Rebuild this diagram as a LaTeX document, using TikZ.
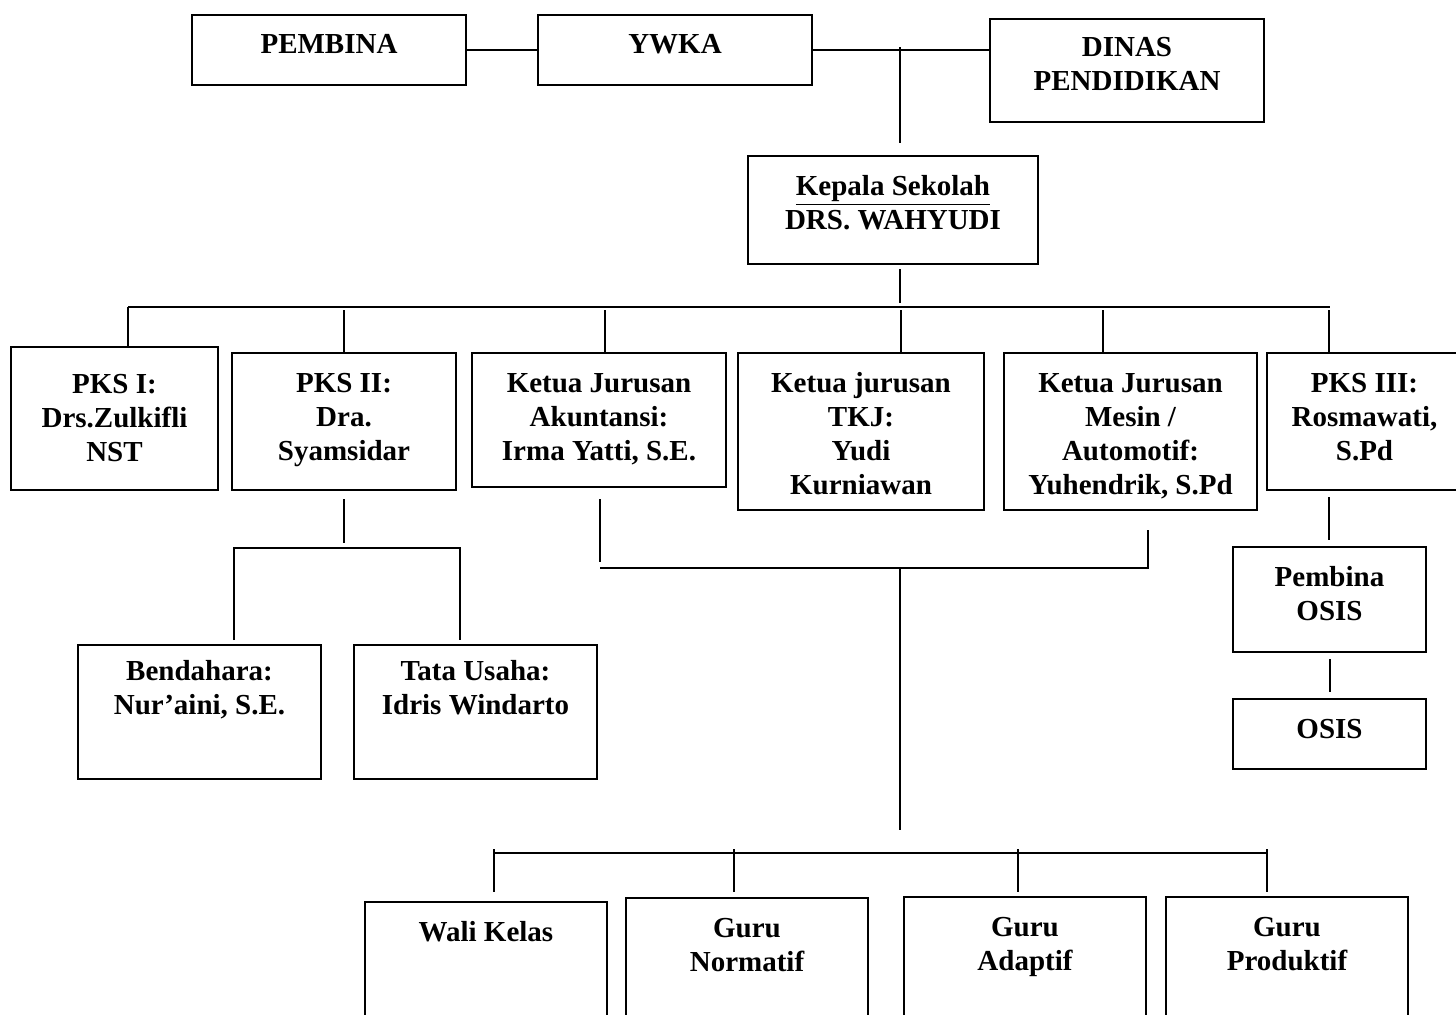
\documentclass[tikz,border=0pt]{standalone}
\usepackage{fontspec}
\setmainfont{Liberation Serif}
\newcommand{\orgtext}[4][19.5pt]{\parbox[c][#3][t]{#2}{\centering\fontsize{14.5pt}{17pt}\selectfont\bfseries\rule{0pt}{#1}#4}}
\begin{document}
\begin{tikzpicture}[x=0.5pt,y=-0.5pt,
  orgbox/.style={draw, line width=1pt, inner sep=0pt, outer sep=0pt},
  conn/.style={line width=0.8pt},
  busline/.style={line width=1.2pt}]
\useasboundingbox (0,0) rectangle (1456,1014);
\clip (0,0) rectangle (1456,1014);
\fill[white] (0,0) rectangle (1456,1014);
% top row
\node[orgbox] (pembina) at (329,50) {\orgtext[19pt]{137pt}{35pt}{PEMBINA}};
\node[orgbox] (ywka) at (675,50) {\orgtext[19pt]{137pt}{35pt}{YWKA}};
\node[orgbox] (dinas) at (1127,70.5) {\orgtext[18.5pt]{137pt}{51.5pt}{DINAS\\PENDIDIKAN}};
\node[orgbox] (kepala) at (893,210) {\orgtext{145pt}{54pt}{\underline{Kepala Sekolah}\\DRS. WAHYUDI}};
% second row
\node[orgbox] (pks1) at (114.5,418.5) {\orgtext[23pt]{103.5pt}{71.5pt}{PKS I:\\Drs.Zulkifli\\NST}};
\node[orgbox] (pks2) at (344,421.5) {\orgtext{112pt}{68.5pt}{PKS II:\\Dra.\\Syamsidar}};
\node[orgbox] (akun) at (599,420) {\orgtext{127pt}{67pt}{Ketua Jurusan\\Akuntansi:\\Irma Yatti, S.E.}};
\node[orgbox] (tkj) at (861,431.5) {\orgtext{123pt}{78.5pt}{Ketua jurusan\\TKJ:\\Yudi\\Kurniawan}};
\node[orgbox] (mesin) at (1130.5,431.5) {\orgtext{126.5pt}{78.5pt}{Ketua Jurusan\\Mesin /\\Automotif:\\Yuhendrik, S.Pd}};
\node[orgbox] (pks3) at (1364.5,421.5) {\orgtext{97.5pt}{68.5pt}{PKS III:\\Rosmawati,\\S.Pd}};
% third row
\node[orgbox] (bend) at (199.5,712) {\orgtext[17.5pt]{121.5pt}{67pt}{Bendahara:\\Nur’aini, S.E.}};
\node[orgbox] (tata) at (475.5,712) {\orgtext[17.5pt]{121.5pt}{67pt}{Tata Usaha:\\Idris Windarto}};
\node[orgbox] (posis) at (1329.5,599.5) {\orgtext{96.5pt}{52.5pt}{Pembina\\OSIS}};
\node[orgbox] (osis) at (1329.5,734) {\orgtext{96.5pt}{35pt}{OSIS}};
% bottom row
\node[orgbox] (wali) at (486,976) {\orgtext{121pt}{74pt}{Wali Kelas}};
\node[orgbox] (norm) at (747,974) {\orgtext{121pt}{76pt}{Guru\\Normatif}};
\node[orgbox] (adap) at (1025,973.5) {\orgtext{121pt}{76.5pt}{Guru\\Adaptif}};
\node[orgbox] (prod) at (1287,973.5) {\orgtext{121pt}{76.5pt}{Guru\\Produktif}};
% connectors top
\draw[conn] (pembina.east) -- (ywka.west);
\draw[conn] (ywka.east) -- (ywka.east -| dinas.west);
\coordinate (k1) at (900,47);
\coordinate (k2) at (900,143);
\draw[conn] (k1) -- (k2);
\coordinate (k3) at (900,269);
\coordinate (k4) at (900,303);
\draw[conn] (k3) -- (k4);
% main bus
\coordinate (bL) at (128,307);
\coordinate (bR) at (1330,307);
\draw[conn] (bL) -- (bR);
\draw[conn] (bL) -- (bL |- pks1.north);
\coordinate (d2) at (344,310);
\coordinate (d3) at (605,310);
\coordinate (d4) at (901,310);
\coordinate (d5) at (1103,310);
\coordinate (d6) at (1329,310);
\draw[conn] (d2) -- (d2 |- pks2.north);
\draw[conn] (d3) -- (d3 |- akun.north);
\draw[conn] (d4) -- (d4 |- tkj.north);
\draw[conn] (d5) -- (d5 |- mesin.north);
\draw[conn] (d6) -- (d6 |- pks3.north);
% PKS II branch
\coordinate (p2a) at (344,499);
\coordinate (p2b) at (344,543);
\draw[conn] (p2a) -- (p2b);
\coordinate (p2L) at (234,548);
\coordinate (p2R) at (460,548);
\coordinate (p2Lb) at (234,640);
\coordinate (p2Rb) at (460,640);
\draw[conn] (p2Lb) -- (p2L) -- (p2R) -- (p2Rb);
% Jurusan branch
\coordinate (a1) at (600,499);
\coordinate (a1b) at (600,562);
\draw[conn] (a1) -- (a1b);
\coordinate (a2) at (600,568);
\coordinate (m2) at (1148,568);
\coordinate (m1) at (1148,530);
\draw[conn] (a2) -- (m2) -- (m1);
\coordinate (c1) at (900,568);
\coordinate (c2) at (900,830);
\draw[conn] (c1) -- (c2);
% bottom bus
\coordinate (gL) at (494,853);
\coordinate (gR) at (1267,853);
\draw[busline] (gL) -- (gR);
\coordinate (g1) at (494,849);
\coordinate (g2) at (734,849);
\coordinate (g3) at (1018,849);
\coordinate (g4) at (1267,849);
\coordinate (g1b) at (494,892);
\coordinate (g2b) at (734,892);
\coordinate (g3b) at (1018,892);
\coordinate (g4b) at (1267,892);
\draw[conn] (g1) -- (g1b);
\draw[conn] (g2) -- (g2b);
\draw[conn] (g3) -- (g3b);
\draw[conn] (g4) -- (g4b);
% OSIS branch
\coordinate (o1) at (1329,497);
\coordinate (o2) at (1329,540);
\draw[conn] (o1) -- (o2);
\coordinate (o3) at (1330,659);
\coordinate (o4) at (1330,692);
\draw[conn] (o3) -- (o4);
\end{tikzpicture}
\end{document}
